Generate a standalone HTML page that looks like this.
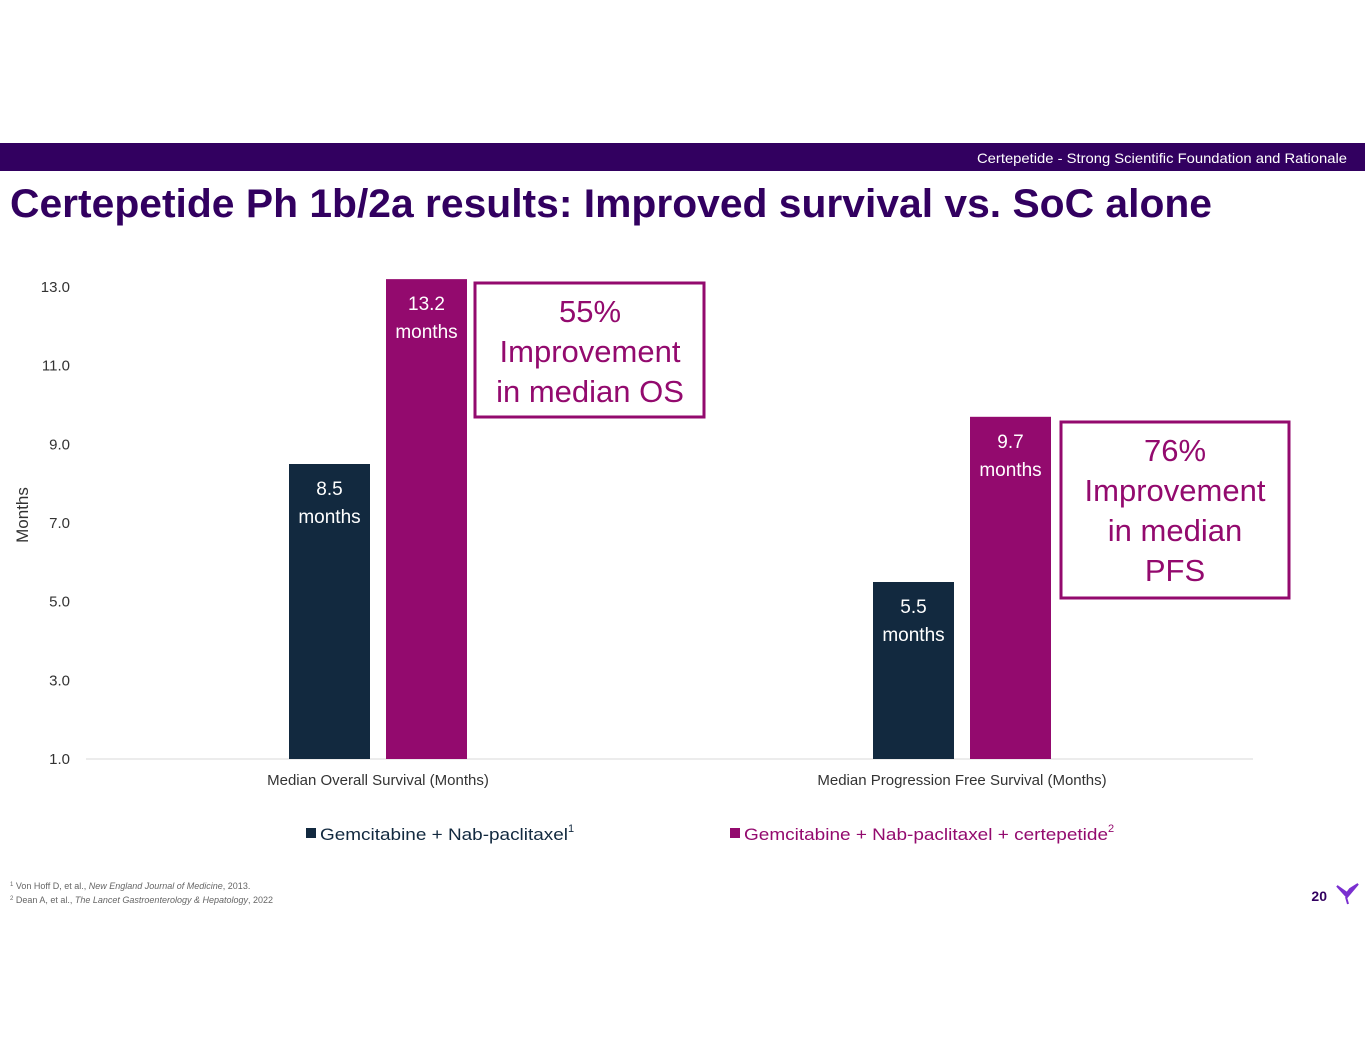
<!DOCTYPE html>
<html><head><meta charset="utf-8"><style>
html,body{margin:0;padding:0;background:#fff;}
svg{display:block;font-family:"Liberation Sans",sans-serif;}
</style></head><body>
<svg id="chart" width="1365" height="1055" viewBox="0 0 1365 1055">
<rect x="0" y="143" width="1365" height="28" fill="#320060"/>
<text x="1347" y="163" font-size="14" fill="#fff" text-anchor="end" textLength="370" lengthAdjust="spacingAndGlyphs">Certepetide - Strong Scientific Foundation and Rationale</text>
<text x="10" y="217" font-size="40" font-weight="bold" fill="#320060" textLength="1202" lengthAdjust="spacingAndGlyphs">Certepetide Ph 1b/2a results: Improved survival vs. SoC alone</text>
<g id="yaxis"></g>
<text transform="translate(28,515) rotate(-90)" font-size="17" fill="#333" text-anchor="middle">Months</text>
<line x1="86" y1="759" x2="1253" y2="759" stroke="#d9d9d9"/>
<g id="bars"></g>
<rect x="475" y="283" width="229" height="134" fill="none" stroke="#930a6e" stroke-width="3"/>
<text x="590" y="322" font-size="31" fill="#930a6e" text-anchor="middle"><tspan x="590">55%</tspan><tspan x="590" dy="40">Improvement</tspan><tspan x="590" dy="40">in median OS</tspan></text>
<rect x="1061" y="422" width="228" height="176" fill="none" stroke="#930a6e" stroke-width="3"/>
<text x="1175" y="461" font-size="31" fill="#930a6e" text-anchor="middle"><tspan x="1175">76%</tspan><tspan x="1175" dy="40">Improvement</tspan><tspan x="1175" dy="40">in median</tspan><tspan x="1175" dy="40">PFS</tspan></text>
<g>
<rect x="306" y="828" width="10" height="10" fill="#12293f"/>
<text x="320" y="840" font-size="17" fill="#12293f"><tspan textLength="248" lengthAdjust="spacingAndGlyphs">Gemcitabine + Nab-paclitaxel</tspan><tspan font-size="11" dy="-8">1</tspan></text>
<rect x="730" y="828" width="10" height="10" fill="#930a6e"/>
<text x="744" y="840" font-size="17" fill="#930a6e"><tspan textLength="364" lengthAdjust="spacingAndGlyphs">Gemcitabine + Nab-paclitaxel + certepetide</tspan><tspan font-size="11" dy="-8">2</tspan></text>
</g>
<text x="10" y="889" font-size="9" fill="#666"><tspan font-size="6" dy="-3">1</tspan><tspan dy="3"> Von Hoff D, et al., </tspan><tspan font-style="italic">New England Journal of Medicine</tspan>, 2013.</text>
<text x="10" y="903" font-size="9" fill="#666"><tspan font-size="6" dy="-3">2</tspan><tspan dy="3"> Dean A, et al., </tspan><tspan font-style="italic">The Lancet Gastroenterology &amp; Hepatology</tspan>, 2022</text>
<text x="1327" y="901" font-size="14" font-weight="bold" fill="#320060" text-anchor="end">20</text>
<path d="M1337 886 L1347 897 L1358 884 L1350 889 L1347 893 Z M1346 897 L1348 904" stroke="#7a2fd0" stroke-width="2" fill="#7a2fd0"/>
</svg>
<script>
const categories = ["Median Overall Survival (Months)", "Median Progression Free Survival (Months)"];
const socValues = [8.5, 5.5];
const certValues = [13.2, 9.7];
const yTicks = [1.0, 3.0, 5.0, 7.0, 9.0, 11.0, 13.0];

const NS = "http://www.w3.org/2000/svg";
const y = v => 759 - (v - 1) * (472 / 12);
const groupCenter = i => 378 + i * 584;
function mk(tag, attrs, parent, txt) {
  const e = document.createElementNS(NS, tag);
  for (const k in attrs) e.setAttribute(k, attrs[k]);
  if (txt !== undefined) e.textContent = txt;
  parent.appendChild(e);
  return e;
}
const ya = document.getElementById('yaxis');
yTicks.forEach(t => {
  const el = mk('text', {x: 70, y: y(t) + 5, 'font-size': 15, fill: '#333', 'text-anchor': 'end'}, ya, t.toFixed(1));
  
  
});
const bars = document.getElementById('bars');
categories.forEach((c, i) => {
  const cx = groupCenter(i);
  [[socValues[i], '#12293f', cx - 89, 'bar-soc'], [certValues[i], '#930a6e', cx + 8, 'bar-certepetide']].forEach(([v, col, x, nm]) => {
    const r = mk('rect', {x: x, y: y(v), width: 81, height: 759 - y(v), fill: col}, bars);
    
    
    const t = mk('text', {x: x + 40.5, y: y(v) + 31, 'font-size': 19, fill: '#fff', 'text-anchor': 'middle'}, bars);
    
    
    mk('tspan', {x: x + 40.5}, t, v.toFixed(1));
    mk('tspan', {x: x + 40.5, dy: 28}, t, 'months');
  });
  const xl = mk('text', {x: cx, y: 785, 'font-size': 15, fill: '#333', 'text-anchor': 'middle'}, bars, c);
  
  
});
</script>
</body></html>
